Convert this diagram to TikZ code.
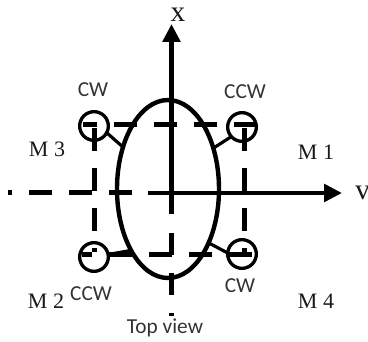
\documentclass[tikz,border=0pt]{standalone}
\usepackage{fontspec}
\setmainfont{Liberation Serif}
\newfontfamily\labelfont{Carlito}
\usepackage{xcolor}
\usepackage{tikz}
\usetikzlibrary{arrows.meta,shapes.geometric}
\tikzset{
  body/.style   ={draw, ellipse, line width=3.3pt, minimum width=76.5pt, minimum height=133.5pt, inner sep=0pt, outer sep=0pt},
  motor/.style  ={draw, circle, line width=2.5pt, minimum size=21.5pt, inner sep=0pt, outer sep=0pt},
  arm/.style    ={line width=2.4pt},
  frame/.style  ={line width=3.75pt, dash pattern=on 17.25pt off 12.75pt},
  axis/.style   ={line width=3.4pt},
  arr/.style    ={-{Triangle[length=13.5pt, width=13pt]}, axis},
  mlabel/.style ={font=\fontsize{16.5}{18}\selectfont, text=black!90, inner sep=0pt},
  dirlabel/.style={font=\labelfont\fontsize{16}{18}\selectfont, text=black!80, inner sep=0pt},
  axlabel/.style={font=\fontsize{22}{24}\selectfont, text=black!90, inner sep=0pt},
}
\begin{document}
\begin{tikzpicture}[x=0.75pt,y=-0.75pt]
    \useasboundingbox (0,0) rectangle (368,342);
    % airframe
    \node[body] (hull) at (168,189) {};
    \node[motor] (m3) at (94,126) {};
    \node[motor] (m1) at (242,127) {};
    \node[motor] (m2) at (94,257) {};
    \node[motor] (m4) at (242,254) {};
    \draw[arm] (m3.-28) -- (hull.137);
    \draw[arm] (m1.222) -- (hull.42);
    \draw[arm] (m2.10) -- (hull.239);
    \draw[arm] (m4.176) -- (hull.-53);
    % dashed square
    \coordinate (topr) at (257,125);
    \coordinate (topl) at (83,125);
    \coordinate (botr) at (252,255);
    \coordinate (botl) at (82,255);
    \coordinate (lefta) at (94,128);
    \coordinate (leftb) at (94,252);
    \coordinate (righta) at (244,128);
    \coordinate (rightb) at (244,252);
    \draw[frame] (topr) -- (topl);
    \draw[frame] (botr) -- (botl);
    \draw[frame] (lefta) -- (leftb);
    \draw[frame] (righta) -- (rightb);
    % axes
    \coordinate (yend) at (342,193);
    \coordinate (ysolid) at (148,193);
    \coordinate (ydash) at (132,193);
    \coordinate (yfar) at (8,193);
    \coordinate (xend) at (171.5,24);
    \coordinate (xsolid) at (171.5,214);
    \coordinate (xdash) at (171.5,233);
    \coordinate (xfar) at (171.5,316);
    \draw[arr] (ysolid) -- (yend);
    \draw[arr] (xsolid) -- (xend);
    \draw[frame] (ydash) -- (yfar);
    \draw[frame, dash pattern=on 16.5pt off 13.5pt] (xdash) -- (xfar);
    % labels
    \node[axlabel] (xlab) at (178,15) {x};
    \node[axlabel, anchor=west] (ylab) at (355,193) {v};
    \node[mlabel] (lm3) at (47,149) {M 3};
    \node[mlabel] (lm1) at (316,152) {M 1};
    \node[mlabel] (lm2) at (46,301) {M 2};
    \node[mlabel] (lm4) at (316,301) {M 4};
    \node[dirlabel] (lcw3) at (93,90) {CW};
    \node[dirlabel] (lccw1) at (245,92) {CCW};
    \node[dirlabel] (lccw2) at (91,294) {CCW};
    \node[dirlabel] (lcw4) at (240,286) {CW};
    \node[dirlabel] (ltop) at (165,328) {Top view};
  \end{tikzpicture}
\end{document}
